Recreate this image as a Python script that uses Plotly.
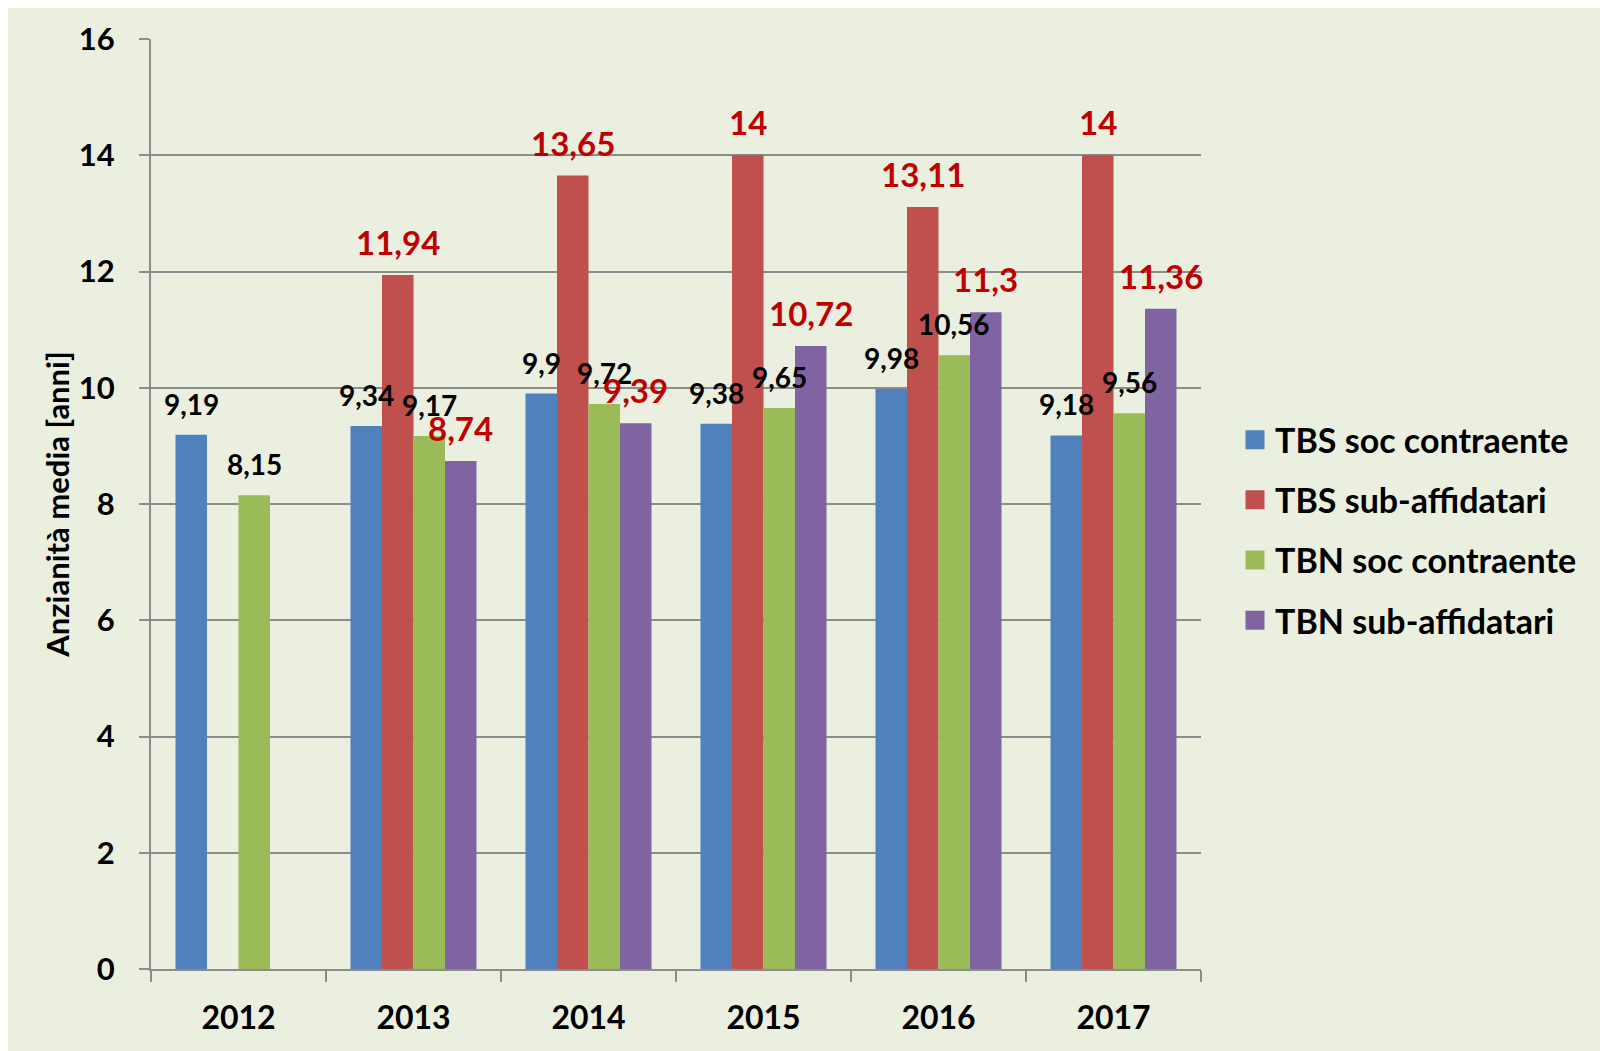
import plotly.graph_objects as go

years = ['2012', '2013', '2014', '2015', '2016', '2017']
tbs_soc = [9.19, 9.34, 9.9, 9.38, 9.98, 9.18]
tbs_sub = [None, 11.94, 13.65, 14, 13.11, 14]
tbn_soc = [8.15, 9.17, 9.72, 9.65, 10.56, 9.56]
tbn_sub = [None, 8.74, 9.39, 10.72, 11.3, 11.36]

series = [
    ('TBS soc contraente', tbs_soc, '#4F81BD', 'black'),
    ('TBS sub-affidatari', tbs_sub, '#C0504D', '#C00000'),
    ('TBN soc contraente', tbn_soc, '#9BBB59', 'black'),
    ('TBN sub-affidatari', tbn_sub, '#8064A2', '#C00000'),
]

W, H = 1600, 1043
ml, mr, mt, mb = 143, 407, 31, 82
pw = W - ml - mr
ph = H - mt - mb
bargap = 0.28
slot = pw / len(years) * (1 - bargap) / len(series)

FONT = 'Lato'
bg = '#EBEFDF'

fig = go.Figure()
annotations = []
for i, (name, vals, color, lab_color) in enumerate(series):
    fig.add_trace(go.Bar(x=years, y=vals, name=name, marker_color=color,
                         marker_line_width=0, showlegend=False))
    big = lab_color != 'black'
    for j, v in enumerate(vals):
        if v is None:
            continue
        annotations.append(dict(
            x=j, y=v, xref='x', yref='y', text=f'{v:g}'.replace('.', ','),
            showarrow=False, yanchor='bottom', xanchor='center',
            xshift=(i - 1.5) * slot, yshift=11 if big else 12,
            font=dict(family=FONT, size=33 if big else 28, color=lab_color,
                      weight='bold')))

# legend entries with a bigger swatch than the bar legend gives
for name, vals, color, lab_color in series:
    fig.add_trace(go.Scatter(x=[years[0]], y=[None], mode='markers', name=name,
                             legendgroup=name, hoverinfo='skip',
                             marker=dict(symbol='square', size=16, color=color,
                                         line=dict(color=color, width=3))))

fig.update_layout(
    width=W, height=H,
    margin=dict(l=ml, r=mr, t=mt, b=mb, autoexpand=False),
    paper_bgcolor=bg, plot_bgcolor=bg,
    barmode='group', bargap=bargap, bargroupgap=0,
    font=dict(family=FONT, color='black'),
    annotations=annotations,
    legend=dict(x=(1227 - ml) / pw, xanchor='left', y=0.472, yanchor='middle',
                traceorder='grouped', tracegroupgap=13,
                font=dict(family=FONT, size=34, weight='bold'),
                bgcolor='rgba(0,0,0,0)'),
    xaxis=dict(type='category', categoryorder='array', categoryarray=years,
               range=[-0.5, len(years) - 0.5], automargin=False, tickangle=0,
               showline=True, linecolor='#8C8C8C', linewidth=2,
               ticks='outside', tickson='boundaries', ticklen=11, tickwidth=2,
               tickcolor='#8C8C8C', showgrid=False,
               tickfont=dict(family=FONT, size=32, weight='bold'), ticklabelstandoff=20),
    yaxis=dict(range=[0, 16], dtick=2, showline=True, linecolor='#8C8C8C',
               linewidth=2, ticks='outside', ticklen=10, tickwidth=2,
               tickcolor='#8C8C8C', gridcolor='#8C8C8C', gridwidth=2,
               zeroline=False, automargin=False,
               tickfont=dict(family=FONT, size=31, weight='bold'),
               ticklabelstandoff=18,
               title=dict(text='Anzianità media [anni]', standoff=0,
                          font=dict(family=FONT, size=31, weight='bold'))),
)

fig.write_html('out.html')
